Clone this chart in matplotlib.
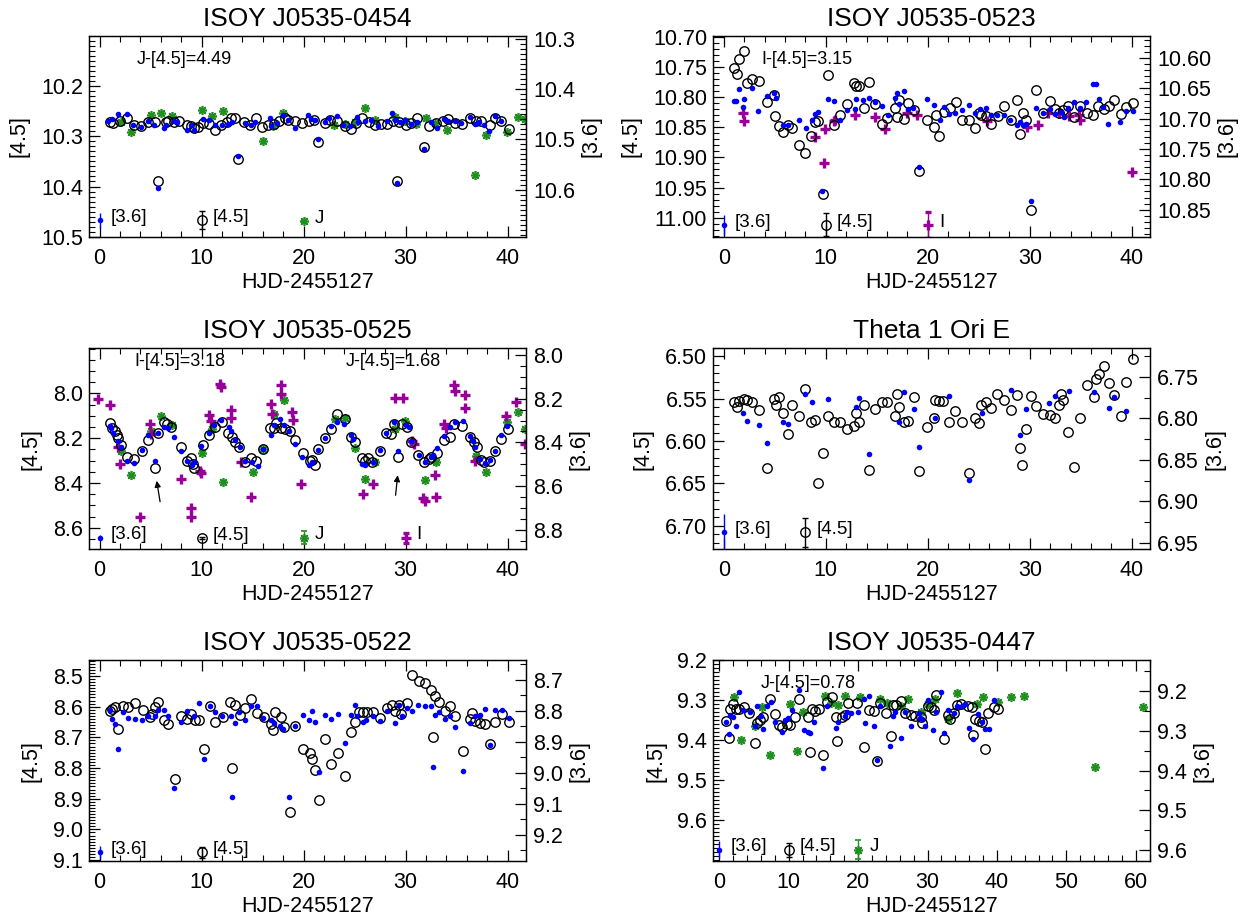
import matplotlib
matplotlib.use('Agg')
import matplotlib.pyplot as plt
from matplotlib.ticker import MultipleLocator, FixedLocator, FormatStrFormatter

plt.rcParams['font.family'] = ['Liberation Sans', 'DejaVu Sans']

# ---------------- ISOY J0535-0454 ----------------
t45_a = [0.98,1.31,1.96,2.71,3.37,4.08,4.80,5.39,6.54,6.70,7.29,7.75,8.59,8.99,9.25,9.64,10.13,10.69,11.27,11.93,
         12.52,12.91,13.24,14.15,14.71,15.36,15.92,16.50,17.06,17.55,18.14,18.46,19.18,19.84,20.49,21.01,22.06,22.55,
         23.30,24.02,24.61,25.16,25.72,26.37,26.96,27.61,28.20,28.76,29.31,30.07,30.56,31.14,32.25,33.01,33.66,34.15,
         34.87,35.52,36.27,36.93,37.35,38.24,38.79,39.38,40.10,5.72,13.56,21.41,29.18,31.80]
m45_a = [10.272,10.274,10.269,10.264,10.277,10.280,10.272,10.272,10.272,10.269,10.272,10.269,10.277,10.280,10.284,
         10.282,10.274,10.276,10.287,10.277,10.272,10.264,10.264,10.272,10.278,10.264,10.282,10.277,10.276,10.269,
         10.263,10.267,10.270,10.274,10.269,10.267,10.274,10.267,10.270,10.280,10.285,10.274,10.263,10.272,10.277,
         10.276,10.276,10.269,10.272,10.278,10.274,10.263,10.280,10.274,10.269,10.265,10.274,10.276,10.264,10.269,
         10.270,10.277,10.263,10.269,10.285,10.390,10.346,10.311,10.390,10.322]
t36_a = [0.88,1.21,1.86,2.71,3.27,4.08,4.80,5.33,6.31,6.54,7.29,7.61,8.59,8.99,9.25,10.13,10.69,11.27,11.99,12.58,
         12.97,14.22,14.80,15.26,16.67,16.83,17.42,17.97,18.46,19.12,20.42,20.75,21.08,22.12,22.45,23.30,23.86,24.51,
         25.26,25.33,25.98,26.63,27.29,28.20,28.66,28.92,29.41,29.90,30.56,31.14,32.45,33.10,33.76,34.15,34.80,35.39,
         36.27,36.76,37.16,37.68,38.14,38.79,39.38,5.72,13.56,21.41,29.18,31.80]
m36_a = [10.464,10.459,10.449,10.449,10.471,10.476,10.463,10.471,10.478,10.471,10.463,10.466,10.481,10.472,10.481,
         10.459,10.461,10.471,10.471,10.470,10.466,10.468,10.471,10.466,10.458,10.474,10.468,10.451,10.461,10.478,
         10.451,10.459,10.461,10.466,10.458,10.453,10.471,10.474,10.455,10.466,10.463,10.461,10.474,10.464,10.447,
         10.461,10.466,10.461,10.470,10.466,10.466,10.478,10.459,10.464,10.463,10.468,10.455,10.470,10.466,10.471,
         10.483,10.453,10.464,10.596,10.534,10.499,10.586,10.520]
tJ_a = [2.06,3.04,5.00,6.05,7.09,10.03,11.01,12.09,16.01,16.99,17.97,22.97,24.02,25.00,25.98,27.03,28.99,29.97,
        31.05,32.03,32.84,34.08,36.83,37.91,39.97,41.01,41.75]
mJ_a = [10.272,10.291,10.257,10.253,10.259,10.247,10.260,10.250,10.310,10.280,10.253,10.277,10.276,10.272,10.243,
        10.267,10.261,10.269,10.276,10.264,10.274,10.287,10.378,10.298,10.291,10.261,10.265]

# ---------------- ISOY J0535-0523 ----------------
t45_b = [0.98,1.31,1.54,1.96,2.29,2.78,3.43,4.25,4.90,5.07,5.39,5.78,6.31,6.70,7.35,8.01,8.59,8.92,9.25,9.71,
         10.20,10.78,11.44,12.09,12.75,12.97,13.24,13.73,14.28,14.87,15.46,16.01,16.76,16.99,17.22,17.65,18.07,18.63,
         19.18,19.93,20.59,20.82,21.14,21.57,22.22,22.78,23.37,24.08,24.67,25.00,25.26,25.72,26.24,26.90,27.45,28.20,
         28.76,28.99,29.31,29.58,30.16,30.62,31.27,31.93,32.45,32.84,33.24,33.76,34.31,34.87,35.62,36.18,36.70,37.25,
         37.75,38.24,38.89,39.44,40.10]
m45_b = [10.751,10.762,10.736,10.723,10.777,10.770,10.773,10.808,10.797,10.831,10.848,10.858,10.846,10.851,10.879,
         10.893,10.865,10.842,10.840,10.961,10.764,10.846,10.830,10.811,10.777,10.781,10.782,10.818,10.775,10.811,
         10.844,10.835,10.818,10.833,10.804,10.837,10.809,10.822,10.923,10.838,10.849,10.830,10.864,10.824,10.818,
         10.808,10.838,10.838,10.852,10.826,10.830,10.831,10.844,10.831,10.814,10.838,10.805,10.862,10.827,10.838,
         10.987,10.789,10.827,10.807,10.819,10.826,10.821,10.815,10.833,10.815,10.827,10.829,10.814,10.820,10.814,
         10.805,10.828,10.816,10.810]
t36_b = [0.98,1.21,1.54,1.96,1.90,2.78,3.37,4.25,4.90,5.13,5.78,6.31,7.35,8.07,8.66,8.99,9.25,9.64,10.20,10.78,
         11.44,12.09,12.84,12.97,13.63,14.28,14.80,15.46,16.11,16.76,16.99,17.22,17.65,18.07,18.53,19.18,19.93,20.59,
         21.24,21.57,22.12,22.71,23.37,24.08,24.67,25.16,25.72,26.24,26.80,27.45,28.10,28.76,28.99,29.31,29.58,30.16,
         30.62,31.27,31.93,32.45,33.01,33.33,33.76,34.31,34.87,35.52,36.18,36.44,36.76,37.16,37.68,38.79,39.38,40.10]
m36_b = [10.671,10.671,10.651,10.668,10.680,10.649,10.687,10.662,10.657,10.666,10.710,10.710,10.702,10.715,10.702,
         10.693,10.689,10.820,10.667,10.671,10.702,10.686,10.684,10.668,10.669,10.666,10.672,10.679,10.694,10.666,
         10.658,10.675,10.655,10.684,10.682,10.779,10.668,10.678,10.702,10.680,10.692,10.691,10.686,10.678,10.691,
         10.684,10.682,10.694,10.694,10.694,10.702,10.711,10.706,10.710,10.709,10.835,10.683,10.691,10.684,10.693,
         10.689,10.697,10.682,10.672,10.682,10.672,10.642,10.642,10.667,10.680,10.708,10.706,10.687,10.687]
tI_b = [1.86,1.96,8.99,9.80,9.90,10.78,10.95,12.84,14.80,15.78,17.97,18.95,25.82,29.74,30.82,31.80,32.84,33.82,
        34.80,34.87,39.97]
mI_b = [10.826,10.840,10.866,10.910,10.853,10.840,10.838,10.829,10.833,10.853,10.826,10.829,10.840,10.849,10.846,
        10.827,10.827,10.831,10.829,10.838,10.925]

# ---------------- ISOY J0535-0525 ----------------
t45_c = [0.98,1.21,1.47,1.73,1.86,2.12,2.71,3.37,4.15,4.80,5.39,5.78,6.31,6.63,7.03,8.01,8.59,8.92,9.25,9.15,
         10.13,10.69,11.27,11.99,12.58,12.97,13.24,13.63,14.28,14.80,15.36,16.01,16.67,17.09,17.32,17.75,18.14,18.63,
         19.18,19.93,20.59,20.82,21.14,21.41,22.12,22.71,23.30,24.02,24.67,25.00,25.72,26.05,26.31,26.70,27.45,28.10,
         28.53,28.86,29.25,29.64,30.16,30.49,31.21,31.80,32.25,32.52,33.10,33.76,34.31,34.74,35.52,36.27,36.70,37.03,
         37.35,37.68,38.24,38.79,39.38,40.03]
m45_c = [8.133,8.153,8.170,8.185,8.197,8.230,8.283,8.293,8.256,8.209,8.333,8.175,8.126,8.135,8.150,8.239,8.304,
         8.289,8.333,8.313,8.230,8.185,8.150,8.126,8.175,8.194,8.219,8.239,8.308,8.289,8.301,8.249,8.156,8.153,8.130,
         8.153,8.160,8.170,8.209,8.264,8.301,8.298,8.319,8.249,8.200,8.160,8.090,8.116,8.194,8.215,8.289,8.301,8.289,
         8.308,8.256,8.175,8.179,8.135,8.283,8.135,8.150,8.215,8.274,8.308,8.293,8.286,8.268,8.209,8.194,8.135,8.145,
         8.194,8.219,8.241,8.298,8.308,8.301,8.259,8.204,8.160]
t36_c = [0.98,1.14,1.31,1.86,2.12,2.71,3.37,4.15,4.80,5.39,5.78,6.31,6.70,7.29,7.94,8.59,9.05,9.25,9.97,10.69,
         11.21,11.93,12.65,12.84,13.24,13.73,14.28,14.93,15.52,16.01,16.76,17.09,17.65,18.07,18.56,19.18,19.84,20.49,
         20.82,21.41,22.12,22.65,23.30,23.95,24.67,24.84,25.72,26.05,26.80,27.45,28.10,28.86,29.25,30.07,30.29,30.56,
         31.27,31.86,32.45,32.68,33.10,33.76,34.31,34.87,35.62,36.27,36.60,36.83,37.25,37.75,38.24,38.79,39.38,39.97]
m36_c = [8.324,8.335,8.355,8.395,8.423,8.486,8.495,8.435,8.365,8.483,8.359,8.329,8.335,8.374,8.441,8.483,8.502,
         8.491,8.415,8.359,8.320,8.298,8.329,8.347,8.389,8.420,8.486,8.491,8.506,8.430,8.365,8.320,8.294,8.320,8.347,
         8.408,8.468,8.502,8.491,8.435,8.380,8.324,8.309,8.314,8.365,8.385,8.498,8.502,8.491,8.435,8.359,8.309,8.441,
         8.320,8.329,8.395,8.456,8.491,8.465,8.456,8.426,8.370,8.329,8.309,8.302,8.370,8.392,8.423,8.476,8.495,8.480,
         8.441,8.365,8.324]
tJ_c = [2.06,3.04,5.00,6.05,7.09,10.03,11.01,12.09,15.03,16.01,17.09,18.07,23.04,24.08,25.00,25.98,27.03,28.99,
        29.97,31.93,33.01,36.93,37.91,39.97,41.01,41.75]
mJ_c = [8.259,8.363,8.170,8.101,8.141,8.268,8.160,8.397,8.353,8.249,8.093,8.031,8.116,8.111,8.244,8.382,8.308,
        8.160,8.123,8.387,8.308,8.279,8.353,8.126,8.081,8.160]
tI_c = [-0.10,0.98,1.86,1.96,3.92,4.90,5.00,7.94,8.92,8.99,9.80,9.90,10.69,10.88,11.76,11.93,12.84,12.84,13.82,
        14.80,16.76,16.90,17.75,17.81,18.86,18.95,19.77,25.82,26.80,28.92,29.74,30.62,30.82,31.70,31.93,32.84,33.01,
        33.76,33.99,34.74,34.87,35.78,35.85,36.76,39.87,40.85,41.75]
mI_c = [8.027,8.052,8.241,8.313,8.550,8.138,8.179,8.382,8.511,8.550,8.348,8.357,8.096,8.123,7.957,7.972,8.076,
        8.108,8.308,8.461,8.046,8.090,7.963,8.001,8.081,8.120,8.404,8.449,8.404,8.022,8.022,8.212,8.227,8.467,8.481,
        8.363,8.464,8.135,8.156,7.963,7.990,8.007,8.064,8.304,8.101,8.037,8.227]

# ---------------- Theta 1 Ori E ----------------
t45_d = [0.98,1.31,1.54,1.96,2.29,2.78,3.43,4.25,4.90,5.13,5.39,5.78,6.31,6.70,7.35,8.01,8.59,8.99,9.25,9.71,
         10.20,10.78,11.44,12.09,12.75,12.97,13.24,13.73,14.28,14.87,15.46,16.01,16.76,16.99,17.22,17.65,18.07,18.63,
         19.18,19.93,20.59,20.75,21.14,21.47,22.12,22.71,23.37,24.08,24.67,25.00,25.26,25.72,26.24,26.80,27.45,28.20,
         28.76,28.99,29.25,29.58,30.16,30.62,31.27,31.93,32.45,32.84,33.01,33.24,33.76,34.31,34.87,35.62,36.27,36.44,
         36.76,37.25,37.75,38.24,38.89,39.44,40.10]
m45_d = [6.554,6.560,6.553,6.550,6.552,6.554,6.563,6.632,6.550,6.558,6.548,6.567,6.592,6.558,6.570,6.539,6.577,
         6.575,6.650,6.614,6.571,6.577,6.577,6.586,6.582,6.567,6.578,6.557,6.634,6.562,6.554,6.554,6.571,6.545,6.560,
         6.577,6.576,6.548,6.635,6.584,6.573,6.552,6.553,6.553,6.578,6.565,6.578,6.638,6.573,6.579,6.557,6.554,6.561,
         6.545,6.551,6.563,6.546,6.608,6.628,6.586,6.547,6.559,6.568,6.569,6.573,6.558,6.544,6.551,6.589,6.631,6.573,
         6.534,6.548,6.527,6.521,6.511,6.531,6.546,6.570,6.530,6.503]
t36_d = [1.86,2.29,3.43,4.25,5.78,6.31,8.01,8.66,10.20,12.97,13.24,14.28,17.22,17.65,18.63,19.18,20.75,22.12,
         24.08,25.33,28.20,28.99,29.58,31.86,32.45,33.82,36.27,37.75,38.24,39.44]
m36_d = [6.794,6.803,6.808,6.830,6.804,6.807,6.770,6.780,6.777,6.786,6.776,6.843,6.804,6.768,6.789,6.834,6.800,
         6.773,6.874,6.793,6.766,6.820,6.789,6.782,6.773,6.767,6.768,6.788,6.774,6.791]

# ---------------- ISOY J0535-0522 ----------------
t45_e = [0.98,1.21,1.47,1.86,2.29,2.84,3.43,4.25,4.90,5.13,5.39,5.78,6.31,6.70,7.35,8.01,8.59,8.99,9.31,9.71,
         10.20,10.78,11.34,12.09,12.75,12.97,13.24,13.73,14.28,14.80,15.46,16.11,16.76,16.99,17.22,17.75,18.07,18.63,
         19.18,19.93,20.59,20.82,21.14,21.47,22.12,22.71,23.37,24.08,24.67,25.00,25.39,25.82,26.24,26.80,27.45,28.20,
         28.66,28.99,29.31,29.58,30.16,30.62,31.27,31.93,32.45,32.84,33.24,32.71,33.82,34.31,34.87,35.62,36.27,36.50,
         36.76,37.25,37.75,38.24,38.79,39.44,40.10]
m45_e = [8.613,8.608,8.601,8.672,8.599,8.602,8.588,8.612,8.635,8.623,8.602,8.586,8.642,8.658,8.837,8.631,8.639,
         8.623,8.642,8.642,8.737,8.599,8.651,8.634,8.585,8.800,8.594,8.626,8.605,8.575,8.621,8.635,8.658,8.675,8.617,
         8.635,8.667,8.942,8.664,8.737,8.750,8.770,8.808,8.903,8.704,8.788,8.750,8.826,8.683,8.649,8.618,8.618,8.616,
         8.616,8.636,8.605,8.595,8.615,8.595,8.623,8.588,8.498,8.517,8.522,8.545,8.566,8.584,8.699,8.615,8.599,8.629,
         8.745,8.640,8.621,8.648,8.653,8.658,8.723,8.651,8.623,8.651]
t36_e = [0.98,1.21,1.47,1.86,2.29,2.78,3.43,4.15,4.80,5.39,5.78,6.31,6.70,7.29,8.01,8.59,9.25,9.71,10.20,10.78,
         11.34,11.99,12.84,12.97,13.24,13.63,14.28,14.80,15.46,16.01,16.76,17.09,17.65,17.97,18.53,19.18,19.93,20.49,
         20.82,21.14,21.47,22.12,22.71,23.37,24.08,24.67,25.00,25.26,25.82,26.14,26.80,27.45,28.20,28.99,29.31,29.64,
         30.16,30.62,31.21,31.86,32.45,32.71,32.91,33.24,33.82,34.31,34.87,35.62,36.27,36.76,37.25,37.75,38.24,38.79,
         39.44,40.10]
m36_e = [8.797,8.825,8.843,8.923,8.805,8.824,8.827,8.829,8.818,8.818,8.799,8.799,8.816,9.048,8.836,8.802,8.818,
         8.775,8.957,8.786,8.805,8.816,8.816,9.077,8.840,8.805,8.829,8.784,8.784,8.824,8.829,8.840,8.848,8.858,9.078,
         8.850,8.813,8.829,8.800,8.837,8.998,8.813,8.827,8.810,8.904,8.813,8.782,8.818,8.837,8.829,8.818,8.834,8.802,
         8.840,8.781,8.818,8.791,8.802,8.781,8.786,8.786,8.980,8.813,8.804,8.826,8.816,8.852,8.995,8.840,8.818,8.815,
         8.793,8.911,8.799,8.797,8.824]

# ---------------- ISOY J0535-0447 ----------------
t45_f = [0.96,1.34,1.58,1.91,2.39,2.87,3.49,4.31,5.07,5.41,5.89,6.22,7.32,8.04,8.61,9.09,9.71,10.19,10.91,11.48,
         12.82,13.06,13.30,13.78,14.35,14.98,15.45,16.17,16.75,16.89,17.61,18.09,18.56,19.86,20.86,21.53,22.30,23.11,
         24.07,24.69,25.02,25.50,26.22,26.70,27.56,28.13,28.99,29.19,30.05,30.53,31.00,31.24,32.44,32.92,33.30,33.78,
         34.26,34.83,35.79,36.36,36.51,36.84,37.46,37.80,38.28,38.76,39.52,40.19,22.78]
m45_f = [9.352,9.395,9.321,9.310,9.323,9.321,9.318,9.331,9.406,9.356,9.349,9.343,9.298,9.335,9.363,9.368,9.360,
         9.363,9.343,9.296,9.343,9.429,9.321,9.327,9.321,9.437,9.304,9.291,9.343,9.402,9.341,9.338,9.308,9.308,9.416,
         9.324,9.327,9.308,9.331,9.389,9.313,9.313,9.302,9.333,9.338,9.339,9.343,9.356,9.314,9.318,9.324,9.288,9.396,
         9.338,9.346,9.333,9.313,9.310,9.314,9.318,9.388,9.348,9.352,9.354,9.423,9.333,9.318,9.321,9.452]
t36_f = [0.96,1.34,1.58,1.91,2.39,2.87,3.35,4.45,5.07,5.41,6.03,6.36,6.84,7.46,8.04,9.09,9.47,9.86,10.43,11.48,
         12.25,12.82,13.06,13.68,14.98,15.45,16.75,17.03,18.09,18.33,18.95,20.00,20.86,21.05,21.53,22.30,22.78,23.11,
         24.55,25.02,25.36,26.22,26.70,27.56,28.71,28.85,29.19,29.57,30.14,30.77,31.24,31.96,32.44,33.01,33.78,34.26,
         34.93,35.41,36.03,36.51,37.22,37.80,38.28,38.90,39.52]
m36_f = [9.279,9.308,9.260,9.266,9.288,9.202,9.248,9.254,9.289,9.238,9.263,9.296,9.239,9.227,9.279,9.304,9.274,
         9.268,9.248,9.199,9.299,9.304,9.306,9.279,9.393,9.239,9.293,9.277,9.263,9.254,9.256,9.254,9.221,9.281,9.213,
         9.288,9.374,9.239,9.338,9.263,9.254,9.319,9.254,9.288,9.256,9.268,9.271,9.288,9.224,9.298,9.252,9.202,9.306,
         9.248,9.256,9.239,9.239,9.233,9.293,9.321,9.258,9.277,9.296,9.296,9.224]
tJ_f = [2.06,3.16,5.17,6.12,7.32,11.15,10.19,12.11,15.22,16.08,17.13,18.18,20.24,23.11,24.21,26.12,27.18,29.09,
        30.05,31.10,33.01,34.26,37.13,37.94,40.10,42.01,43.92,54.07,61.05]
mJ_f = [9.293,9.399,9.364,9.318,9.437,9.427,9.310,9.329,9.289,9.306,9.313,9.289,9.291,9.296,9.308,9.314,9.298,
        9.329,9.310,9.298,9.346,9.283,9.310,9.293,9.304,9.291,9.289,9.468,9.318]

# typical error bars shown at the bottom of each panel: (kind, day, mag, err)
leg_a = [('36', 0, 10.467, 0.015), ('45', 10, 10.467, 0.018), ('J', 20, 10.469, 0.003)]
leg_b = [('36', 0, 11.012, 0.017), ('45', 10, 11.012, 0.019), ('I', 20, 11.012, 0.021)]
leg_c = [('36', 0, 8.644, 0.012), ('45', 10, 8.646, 0.006), ('J', 20, 8.644, 0.028), ('I', 30, 8.644, 0.022)]
leg_d = [('36', 0, 6.708, 0.022), ('45', 8, 6.708, 0.017)]
leg_e = [('36', 0, 9.075, 0.02), ('45', 10, 9.075, 0.018)]
leg_f = [('36', 0, 9.674, 0.021), ('45', 10, 9.674, 0.018), ('J', 20, 9.674, 0.024)]

BLUE = '#0000ff'
GREEN = '#1f8f1f'
PURPLE = '#990099'
STY = {
    '36': dict(marker='o', ms=4.0, mfc=BLUE, mec=BLUE, mew=0, color=BLUE),
    '45': dict(marker='o', ms=6.8, mfc='none', mec='k', mew=1.0, color='k'),
    'J': dict(marker=(8, 2, 0), ms=6.5, mfc=GREEN, mec=GREEN, mew=1.2, color=GREEN),
    'I': dict(marker='+', ms=7.5, mec=PURPLE, mew=2.4, color=PURPLE),
}
NAMES = {'36': '[3.6]', '45': '[4.5]', 'J': 'J', 'I': 'I'}

fig = plt.figure(figsize=(12.5, 9.21), dpi=100)


def panel(rect, title, xlim, xt, yl, ytl, mnl, yr, ytr, mnr, fmt,
          s45, s36, sj=None, si=None, leg=(), notes=(), arrows=()):
    ax = fig.add_axes(rect)
    ax2 = ax.twinx()
    ax.plot(s45[0], s45[1], ls='none', zorder=3, **STY['45'])
    if sj is not None:
        ax.plot(sj[0], sj[1], ls='none', zorder=2, **STY['J'])
    if si is not None:
        ax.plot(si[0], si[1], ls='none', zorder=2, **STY['I'])
    ax2.plot(s36[0], s36[1], ls='none', **STY['36'])
    for kind, x, y, e in leg:
        st = dict(STY[kind])
        ax.errorbar([x], [y], yerr=[e], capsize=2.5, elinewidth=1.0, capthick=1.0,
                    ecolor=st['color'], ls='none', **st)
        ax.annotate(NAMES[kind], (x, y), xytext=(8, 2), textcoords='offset points',
                    va='center', ha='left', fontsize=13.5)
    for txt, x, y in notes:
        ax.text(x, y, txt, fontsize=13, va='center', ha='left')
    for x0, y0, x1, y1 in arrows:
        ax.annotate('', xy=(x1, y1), xytext=(x0, y0),
                    arrowprops=dict(arrowstyle='-|>', color='k', lw=0.9, mutation_scale=9))

    ax.set_xlim(xlim)
    ax.set_ylim(yl)
    ax2.set_ylim(yr)
    ax.xaxis.set_major_locator(FixedLocator(xt))
    ax.xaxis.set_minor_locator(MultipleLocator(2))
    ax.yaxis.set_major_locator(FixedLocator(ytl))
    ax.yaxis.set_minor_locator(MultipleLocator(mnl))
    ax2.yaxis.set_major_locator(FixedLocator(ytr))
    ax2.yaxis.set_minor_locator(MultipleLocator(mnr))
    ax.yaxis.set_major_formatter(FormatStrFormatter(fmt))
    ax2.yaxis.set_major_formatter(FormatStrFormatter(fmt))

    ax.tick_params(axis='x', which='both', direction='in', top=True, labelsize=15.5, pad=8)
    ax.tick_params(axis='y', which='both', direction='in', right=False, labelsize=15.5, pad=4)
    ax2.tick_params(axis='y', which='both', direction='in', labelsize=15.5, pad=5)
    for a in (ax, ax2):
        a.tick_params(which='major', length=8, width=0.9)
        a.tick_params(which='minor', length=4, width=0.8)
        for s in a.spines.values():
            s.set_linewidth(0.9)

    ax.set_title(title, fontsize=19, pad=7)
    ax.set_xlabel('HJD-2455127', fontsize=15.5, labelpad=2)
    ax.set_ylabel('[4.5]', fontsize=15.5, labelpad=8)
    ax2.set_ylabel('[3.6]', fontsize=15.5, labelpad=4)
    return ax


L, R, W, H = 0.0708, 0.5702, 0.350, 0.2186
X40 = [0, 10, 20, 30, 40]

panel([L, 0.7427, W, H], 'ISOY J0535-0454', (-1.08, 41.8), X40,
      (10.5005, 10.0995), [10.2, 10.3, 10.4, 10.5], 0.01,
      (10.694, 10.294), [10.3, 10.4, 10.5, 10.6], 0.01, '%.1f',
      (t45_a, m45_a), (t36_a, m36_a), sj=(tJ_a, mJ_a), leg=leg_a,
      notes=[('J-[4.5]=4.49', 3.6, 10.147)])

panel([R, 0.7427, W, H], 'ISOY J0535-0523', (-1.08, 41.8), X40,
      (11.032, 10.698), [10.70, 10.75, 10.80, 10.85, 10.90, 10.95, 11.00], 0.01,
      (10.895, 10.563), [10.60, 10.65, 10.70, 10.75, 10.80, 10.85], 0.01, '%.2f',
      (t45_b, m45_b), (t36_b, m36_b), si=(tI_b, mI_b), leg=leg_b,
      notes=[('I-[4.5]=3.15', 3.7, 10.738)])

panel([L, 0.4036, W, H], 'ISOY J0535-0525', (-1.08, 41.8), X40,
      (8.696, 7.797), [8.0, 8.2, 8.4, 8.6], 0.05,
      (8.889, 7.968), [8.0, 8.2, 8.4, 8.6, 8.8], 0.05, '%.1f',
      (t45_c, m45_c), (t36_c, m36_c), sj=(tJ_c, mJ_c), si=(tI_c, mI_c), leg=leg_c,
      notes=[('I-[4.5]=3.18', 3.4, 7.856), ('J-[4.5]=1.68', 24.1, 7.856)],
      arrows=[(5.98, 8.496, 5.56, 8.378), (28.99, 8.467, 29.25, 8.353)])

panel([R, 0.4036, W, H], 'Theta 1 Ori E', (-1.08, 41.8), X40,
      (6.728, 6.490), [6.50, 6.55, 6.60, 6.65, 6.70], 0.01,
      (6.958, 6.715), [6.75, 6.80, 6.85, 6.90, 6.95], 0.025, '%.2f',
      (t45_d, m45_d), (t36_d, m36_d), leg=leg_d)

panel([L, 0.0648, W, H], 'ISOY J0535-0522', (-1.08, 41.8), X40,
      (9.104, 8.448), [8.5, 8.6, 8.7, 8.8, 8.9, 9.0, 9.1], 0.01,
      (9.286, 8.636), [8.7, 8.8, 8.9, 9.0, 9.1, 9.2], 0.05, '%.1f',
      (t45_e, m45_e), (t36_e, m36_e), leg=leg_e)

panel([R, 0.0648, W, H], 'ISOY J0535-0447', (-0.95, 62.1), [0, 10, 20, 30, 40, 50, 60],
      (9.703, 9.1995), [9.2, 9.3, 9.4, 9.5, 9.6], 0.01,
      (9.628, 9.1225), [9.2, 9.3, 9.4, 9.5, 9.6], 0.05, '%.1f',
      (t45_f, m45_f), (t36_f, m36_f), sj=(tJ_f, mJ_f), leg=leg_f,
      notes=[('J-[4.5]=0.78', 5.9, 9.2575)])

fig.savefig('out.png', dpi=100)
